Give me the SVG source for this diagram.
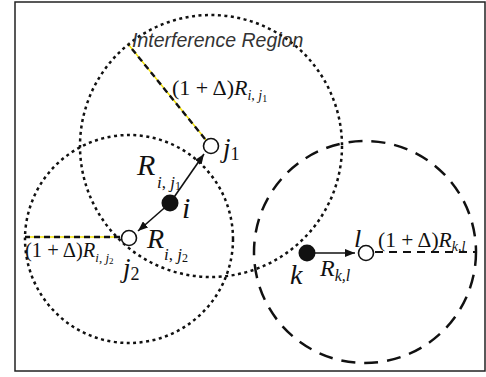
<svg xmlns="http://www.w3.org/2000/svg" width="486" height="377" viewBox="0 0 486 377">
<defs>
<style>
.dot{fill:none;stroke:#111;stroke-width:2.5;stroke-dasharray:3 3.5}
.dash{fill:none;stroke:#111;stroke-width:2.5;stroke-dasharray:14 9}
.yl{stroke:#f2e000;stroke-width:1.3}
.bd{stroke:#111;stroke-width:2.4;stroke-dasharray:6 4}
.open{fill:#fff;stroke:#111;stroke-width:1.6}
.fill{fill:#111}
.arr{stroke:#111;stroke-width:1.6;fill:none;marker-end:url(#ah)}
.m{font-family:"Liberation Serif","Times New Roman",serif;fill:#111}
.it{font-style:italic}
.lab{font-family:"Liberation Sans",Arial,sans-serif;font-style:italic;font-size:19.5px;fill:#333}
</style>
<marker id="ah" viewBox="0 0 10 8" refX="10" refY="4" markerWidth="10" markerHeight="8" markerUnits="userSpaceOnUse" orient="auto">
<path d="M0,0 L10,4 L0,8 Z" fill="#111"/>
</marker>
</defs>
<rect x="15" y="2" width="470" height="369" fill="#fff" stroke="#222" stroke-width="1.5"/>
<g id="regions">
<circle class="dot" cx="211" cy="146" r="131"/>
<circle class="dot" cx="129" cy="239" r="104"/>
<circle class="dash" cx="365" cy="252" r="111"/>
</g>
<g id="connectors">
<line class="yl" x1="211" y1="146" x2="128" y2="44"/>
<line class="bd" x1="205" y1="139" x2="128" y2="44"/>
<line class="yl" x1="120" y1="237" x2="25" y2="237"/>
<line class="bd" x1="120" y1="237" x2="25" y2="237"/>
<line stroke="#111" stroke-width="2.2" stroke-dasharray="8 6" x1="375" y1="252" x2="475" y2="252"/>
<line class="arr" x1="170" y1="203" x2="204" y2="154"/>
<line class="arr" x1="170" y1="203" x2="138" y2="231"/>
<line class="arr" x1="307" y1="253" x2="355" y2="253"/>
</g>
<g id="node-i"><circle class="fill" cx="170" cy="203" r="8.5"/>
<text class="m it" x="182" y="218" font-size="30">i</text></g>
<g id="node-j1"><circle class="open" cx="211" cy="146" r="7.5"/>
<text class="m" x="223" y="157" font-size="27"><tspan class="it">j</tspan><tspan font-size="18" dy="3">1</tspan></text></g>
<g id="node-j2"><circle class="open" cx="129" cy="238" r="7.5"/>
<text class="m" x="123" y="277" font-size="27"><tspan class="it">j</tspan><tspan font-size="18" dy="3">2</tspan></text></g>
<g id="node-k"><circle class="fill" cx="307" cy="253" r="8.5"/>
<text class="m it" x="290" y="284" font-size="28">k</text></g>
<g id="node-l"><circle class="open" cx="366" cy="253" r="7.5"/>
<text class="m it" x="354" y="247" font-size="26">l</text></g>
<g id="labels">
<text class="lab" x="132" y="47">Interference Region</text>
<text class="m" x="172" y="95" font-size="22">(1 + Δ)<tspan class="it">R</tspan><tspan font-size="14" dy="5"><tspan class="it">i</tspan>, <tspan class="it">j</tspan></tspan><tspan font-size="10" dy="2">1</tspan></text>
<text class="m it" x="137" y="175" font-size="30">R</text>
<text class="m" x="157" y="188" font-size="17"><tspan class="it">i</tspan>, <tspan class="it">j</tspan><tspan font-size="12" dy="2">1</tspan></text>
<text class="m it" x="147" y="248" font-size="28">R</text>
<text class="m" x="164" y="260" font-size="17"><tspan class="it">i</tspan>, <tspan class="it">j</tspan><tspan font-size="12" dy="2">2</tspan></text>
<text class="m" x="25" y="257" font-size="20.5">(1 + Δ)<tspan class="it">R</tspan><tspan font-size="13" dy="5"><tspan class="it">i</tspan>, <tspan class="it">j</tspan></tspan><tspan font-size="9" dy="2">2</tspan></text>
<text class="m" x="378" y="247" font-size="21.5">(1 + Δ)<tspan class="it">R</tspan><tspan class="it" font-size="14" dy="4">k,l</tspan></text>
<text class="m" x="320" y="276" font-size="24"><tspan class="it">R</tspan><tspan class="it" font-size="16" dy="5">k,l</tspan></text>
</g>
</svg>
